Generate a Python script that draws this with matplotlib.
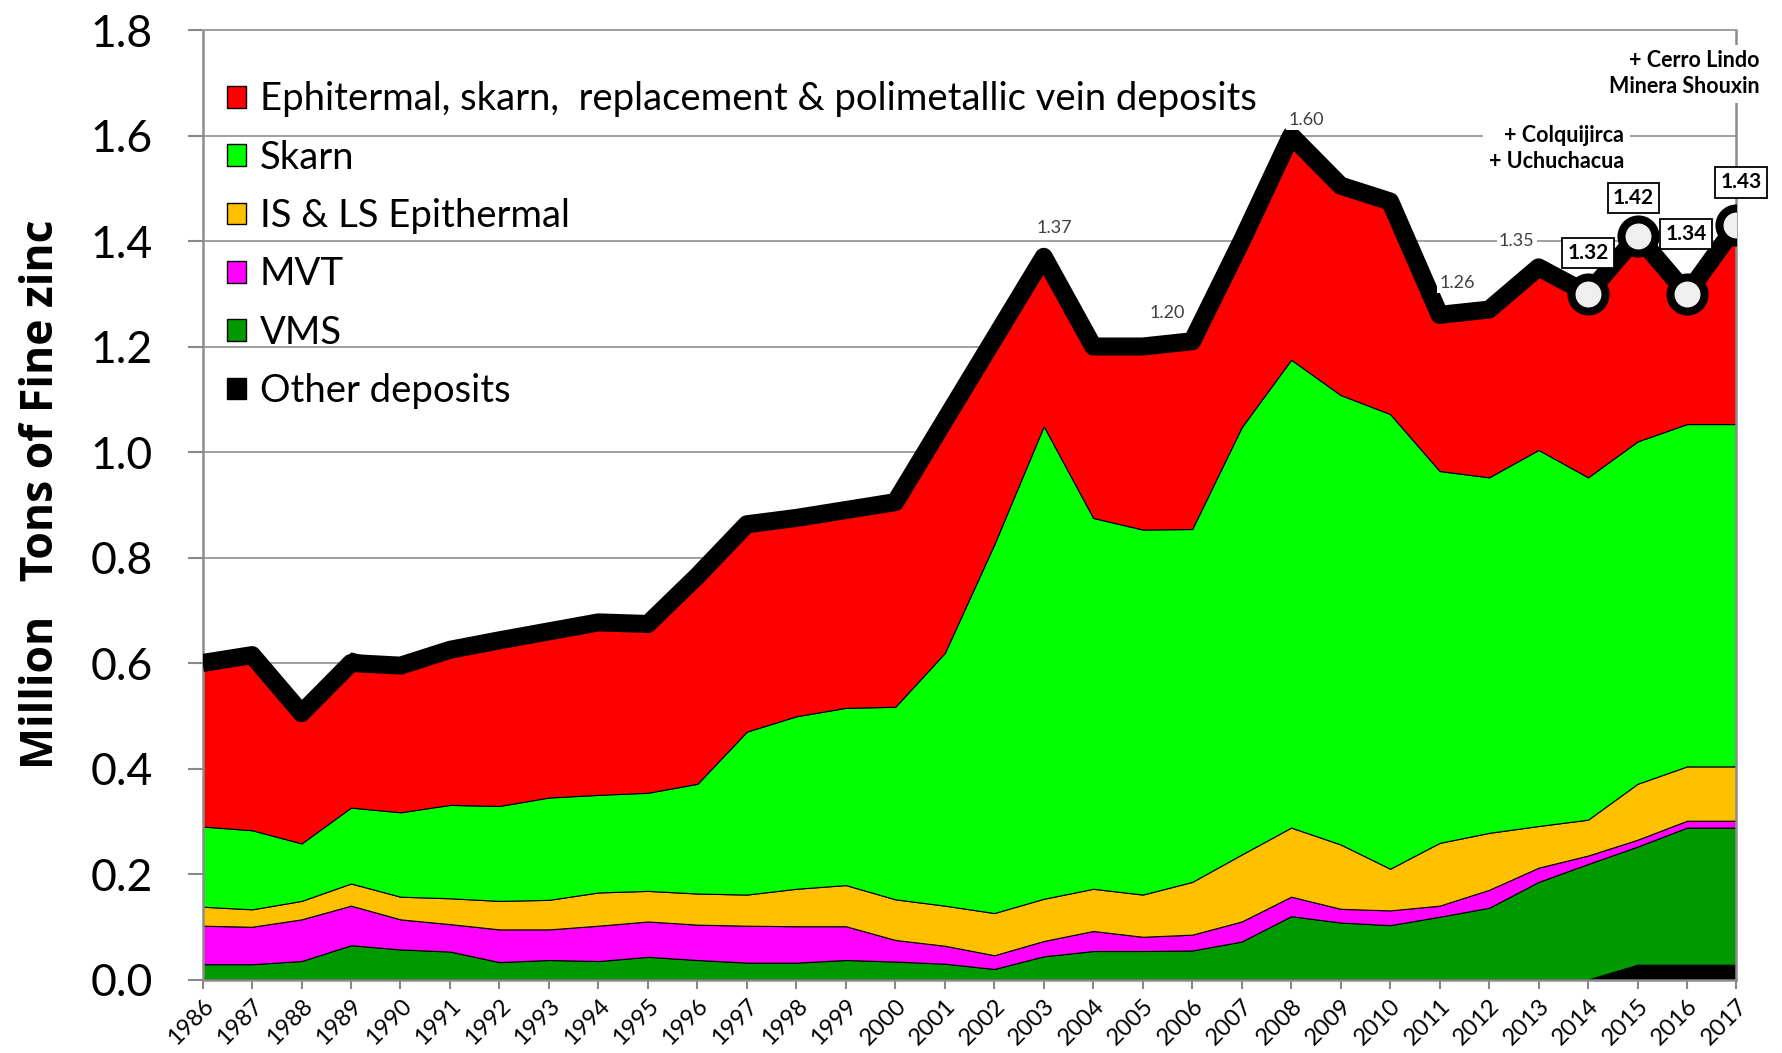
import matplotlib
matplotlib.use('Agg')
import matplotlib.pyplot as plt
from matplotlib.patches import Patch

plt.rcParams['font.family'] = ['Lato', 'DejaVu Sans']

# Zinc production by deposit type (million tons of fine zinc)
years = list(range(1986, 2018))

other = [0.0, 0.0, 0.0, 0.0, 0.0, 0.0, 0.0, 0.0, 0.0, 0.0,
         0.0, 0.0, 0.0, 0.0, 0.0, 0.0, 0.0, 0.0, 0.0, 0.0,
         0.0, 0.0, 0.0, 0.0, 0.0, 0.0, 0.0, 0.0, 0.0, 0.028,
         0.028, 0.028]
vms = [0.029, 0.029, 0.035, 0.065, 0.057, 0.053, 0.033, 0.037, 0.035, 0.043,
       0.037, 0.032, 0.032, 0.037, 0.034, 0.030, 0.020, 0.044, 0.054, 0.054,
       0.055, 0.072, 0.120, 0.108, 0.103, 0.119, 0.136, 0.185, 0.219, 0.224,
       0.260, 0.260]
mvt = [0.073, 0.071, 0.079, 0.075, 0.057, 0.052, 0.062, 0.058, 0.067, 0.067,
       0.067, 0.070, 0.069, 0.064, 0.041, 0.034, 0.026, 0.029, 0.038, 0.027,
       0.030, 0.038, 0.037, 0.026, 0.028, 0.021, 0.034, 0.027, 0.016, 0.013,
       0.013, 0.013]
is_ls = [0.036, 0.033, 0.035, 0.042, 0.043, 0.049, 0.054, 0.056, 0.063, 0.058,
         0.059, 0.059, 0.071, 0.078, 0.077, 0.076, 0.080, 0.080, 0.080, 0.080,
         0.100, 0.127, 0.131, 0.122, 0.079, 0.119, 0.108, 0.079, 0.068, 0.106,
         0.103, 0.103]
skarn = [0.152, 0.150, 0.109, 0.144, 0.160, 0.177, 0.180, 0.194, 0.185, 0.186,
         0.208, 0.309, 0.327, 0.336, 0.365, 0.479, 0.699, 0.896, 0.703, 0.692,
         0.669, 0.810, 0.887, 0.852, 0.862, 0.705, 0.674, 0.713, 0.649, 0.649,
         0.649, 0.649]
epi_poly = [0.310, 0.332, 0.247, 0.294, 0.278, 0.294, 0.314, 0.315, 0.327, 0.320,
            0.394, 0.393, 0.376, 0.375, 0.388, 0.441, 0.390, 0.321, 0.325, 0.347,
            0.356, 0.353, 0.425, 0.397, 0.403, 0.296, 0.318, 0.346, 0.348, 0.390,
            0.247, 0.377]
total = [0.600, 0.615, 0.505, 0.600, 0.595, 0.625, 0.643, 0.660, 0.677, 0.674,
         0.765, 0.863, 0.875, 0.890, 0.905, 1.060, 1.215, 1.370, 1.200, 1.200,
         1.210, 1.400, 1.600, 1.505, 1.475, 1.260, 1.270, 1.350, 1.300, 1.410,
         1.300, 1.430]

series_names = ['Other deposits', 'VMS', 'MVT', 'IS & LS Epithermal', 'Skarn',
                'Ephitermal, skarn,  replacement & polimetallic vein deposits']
series_colors = ['#000000', '#009900', '#ff00ff', '#ffc000', '#00ff00', '#ff0000']

# small value labels on the total line
plain_labels = ['1.37', '1.20', '1.60', '1.26', '1.35']
plain_x = [2003.22, 2005.5, 2008.3, 2011.35, 2012.56]
plain_y = [1.425, 1.263, 1.63, 1.321, 1.40]

# boxed labels for the last years
marker_years = [2014, 2015, 2016, 2017]
marker_vals = [1.300, 1.410, 1.300, 1.430]
boxed_labels = ['1.32', '1.42', '1.34', '1.43']
boxed_x = [2014.0, 2014.92, 2015.98, 2017.09]
boxed_y = [1.377, 1.482, 1.413, 1.511]

fig = plt.figure(figsize=(17.83, 10.53), dpi=100)
ax = fig.add_axes([0.1136, 0.0698, 0.8603, 0.9017])

ax.stackplot(years, other, vms, mvt, is_ls, skarn, epi_poly,
             colors=series_colors, edgecolor='black', linewidth=0.8, zorder=2)
ax.plot(years, total, color='black', lw=13, solid_joinstyle='round',
        solid_capstyle='butt', zorder=3)
ax.plot(marker_years, marker_vals, 'o', ms=24.5, mfc='#efefef', mec='black',
        mew=5.8, zorder=4)

for t, x, y in zip(plain_labels, plain_x, plain_y):
    ax.text(x, y, t, ha='center', va='center', fontsize=13, color='#404040',
            bbox=dict(facecolor='white', edgecolor='none', pad=1.5), zorder=5)
for t, x, y in zip(boxed_labels, boxed_x, boxed_y):
    ax.text(x, y, t, ha='center', va='center', fontsize=15, fontweight='bold',
            bbox=dict(facecolor='white', edgecolor='black', linewidth=1.3,
                      boxstyle='square,pad=0.25'), zorder=5, clip_on=False)

ax.text(2014.73, 1.575, '+ Colquijirca\n+ Uchuchacua', ha='right', va='center',
        fontsize=15.5, fontweight='bold', linespacing=1.3,
        bbox=dict(facecolor='white', edgecolor='none', pad=4), zorder=5)
ax.text(2017.46, 1.717, '+ Cerro Lindo\nMinera Shouxin', ha='right', va='center',
        fontsize=15.5, fontweight='bold', linespacing=1.3,
        bbox=dict(facecolor='white', edgecolor='none', pad=4), zorder=5,
        clip_on=False)

ax.set_xlim(1986, 2017)
ax.set_ylim(0, 1.8)
ax.set_xticks(years)
ax.set_xticklabels([str(y) for y in years], rotation=45, ha='right',
                   rotation_mode='anchor', fontsize=17)
ax.set_yticks([0.2 * i for i in range(10)])
ax.set_yticklabels(['%.1f' % (0.2 * i) for i in range(10)], fontsize=32)
ax.tick_params(axis='y', length=11, width=1.5, color='#888888', pad=25)
ax.tick_params(axis='x', length=6.5, width=1.5, color='#888888', pad=5)

ax.grid(axis='y', color='#a0a0a0', lw=1.4)
ax.set_axisbelow(True)
for side in ['left', 'bottom', 'right']:
    ax.spines[side].set_color('#8c8c8c')
    ax.spines[side].set_linewidth(1.8)
ax.spines['top'].set_color('#a0a0a0')
ax.spines['top'].set_linewidth(1.4)

ax.set_ylabel('Million   Tons of Fine zinc', fontsize=32, fontweight='bold',
              family='Open Sans', va='center')
ax.yaxis.set_label_coords(-0.105, 0.5107)

handles = [Patch(facecolor=c, edgecolor='black', lw=1) for c in series_colors]
ax.legend(handles[::-1], series_names[::-1], loc='upper left',
          bbox_to_anchor=(0.016, 0.946), frameon=False, fontsize=27.5,
          handlelength=0.5, handleheight=0.5, handletextpad=0.35,
          labelspacing=0.585, borderaxespad=0, borderpad=0)

fig.savefig('out.png', dpi=100)
